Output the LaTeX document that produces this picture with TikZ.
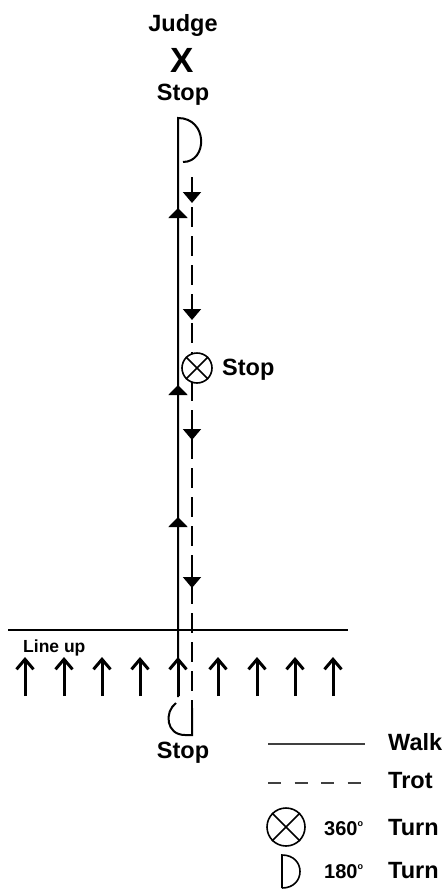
\documentclass[tikz,border=0pt]{standalone}
\usepackage{fontspec}
\setmainfont{Liberation Sans}
\usetikzlibrary{arrows.meta}
\begin{document}
\begin{tikzpicture}[x=1pt,y=-1pt,
  lbl/.style={font=\fontsize{23.5}{25}\selectfont\bfseries, inner sep=0pt},
  small/.style={font=\fontsize{20}{22}\selectfont\bfseries, inner sep=0pt},
  walk/.style={line width=2pt},
  trot/.style={line width=2pt, dash pattern=on 20pt off 9pt},
  uparr/.style={-{Triangle[length=10pt,width=19pt]}, line width=2pt},
  dnarr/.style={-{Triangle[length=11pt,width=18pt]}, line width=2pt},
  lineuparr/.style={-{Straight Barb[length=10pt,width=17pt,line width=3pt]}, line width=3pt},
  legline/.style={line width=1.6pt, black!75},
  turnsym/.style={line width=1.6pt}]
\useasboundingbox (0,0) rectangle (445,891);

% top labels
\node[lbl, anchor=base] (judge) at (183,32) {Judge};
\node[font=\fontsize{35}{36}\selectfont\bfseries, inner sep=0pt, anchor=base] (x) at (182,72) {X};
\node[lbl, anchor=base] (stoptop) at (183,100) {Stop};

% coordinates of route
\coordinate (wtop) at (178,118);
\coordinate (wbot) at (178,697);
\coordinate (dtop) at (192,178);
\coordinate (dbot) at (192,708);

% walk line and top half turn
\draw[walk] (wbot) -- (wtop) .. controls (208,118) and (208,162) .. (183,162);
% trot line
\draw[trot] (dtop) -- (dbot);
% bottom half turn
\draw[walk] (dbot) -- (192,735) -- (185,735) .. controls (166,735) and (164,712) .. (176,703);

% arrows on walk line
\draw[uparr] (178,224) -- (178,208);
\draw[uparr] (178,401) -- (178,385);
\draw[uparr] (178,533) -- (178,517);
% arrows on trot line
\draw[dnarr] (192,177) -- (192,203);
\draw[dnarr] (192,295) -- (192,320);
\draw[dnarr] (192,415) -- (192,440);
\draw[dnarr] (192,565) -- (192,588);

% 360 turn on route
\node[circle, draw, fill=white, turnsym, minimum size=30pt, inner sep=0pt] (turn) at (197,368) {};
\draw[turnsym] (turn.north east) -- (turn.south west) (turn.north west) -- (turn.south east);
\node[lbl, anchor=base west] (stopmid) at (222,375) {Stop};

% line up
\draw[line width=2pt] (8,630) coordinate (lu1) -- (348,630) coordinate (lu2);
\node[font=\fontsize{17.5}{19}\selectfont\bfseries, inner sep=0pt, anchor=base west] (lineup) at (23,652) {Line up};
\foreach \xx in {25,64,102,140,178,218,257,295,333}{
  \draw[lineuparr] (\xx,696) -- (\xx,657);
}
\node[lbl, anchor=base] (stopbot) at (183,758) {Stop};

% legend
\draw[legline] (268,744) coordinate (wl1) -- (365,744) coordinate (wl2);
\node[lbl, anchor=base west] (walklbl) at (388,750) {Walk};
\draw[legline, dash pattern=on 13pt off 13.5pt] (268,783) coordinate (tl1) -- (365,783) coordinate (tl2);
\node[lbl, anchor=base west] (trotlbl) at (388,788) {Trot};
\node[circle, draw, turnsym, minimum size=38pt, inner sep=0pt] (legturn) at (286,827) {};
\draw[turnsym] (legturn.north east) -- (legturn.south west) (legturn.north west) -- (legturn.south east);
\node[small, anchor=base west] (deg360) at (324,835) {360\raisebox{0.45em}{\fontsize{9}{9}\selectfont o}};
\node[lbl, anchor=base west] (turn360) at (388,835) {Turn};
\coordinate (ld1) at (282,855);
\coordinate (ld2) at (282,888);
\draw[turnsym] (ld2) -- (ld1) .. controls (306,855) and (306,888) .. (ld2);
\node[small, anchor=base west] (deg180) at (324,878) {180\raisebox{0.45em}{\fontsize{9}{9}\selectfont o}};
\node[lbl, anchor=base west] (turn180) at (388,878) {Turn};
\end{tikzpicture}
\end{document}
